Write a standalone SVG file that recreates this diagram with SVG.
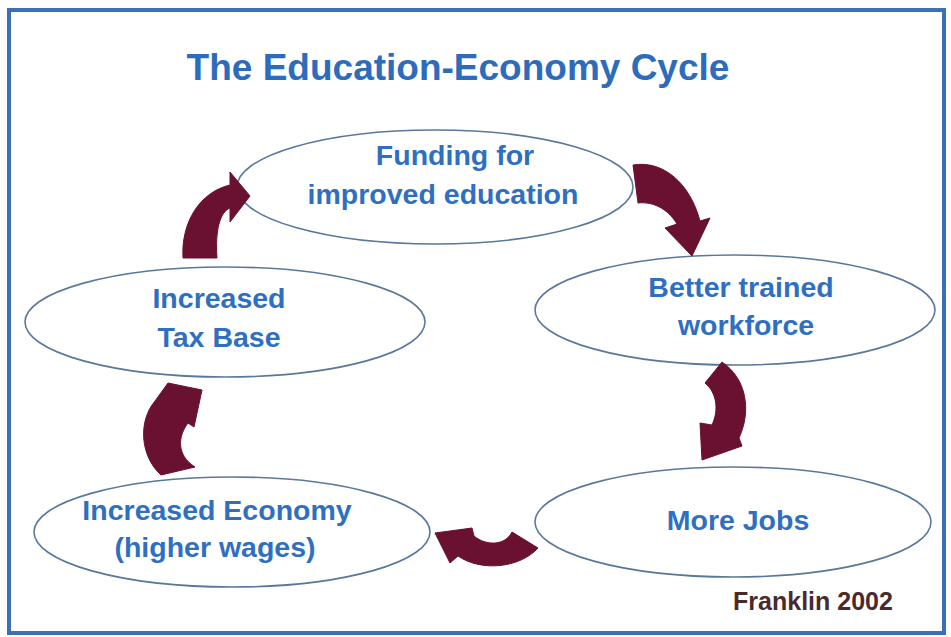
<svg xmlns="http://www.w3.org/2000/svg" width="951" height="637" viewBox="0 0 951 637">
  <style>
    .frame { fill: #ffffff; stroke: #3d6fb5; stroke-width: 4; }
    .title { font-family: "Liberation Sans", Arial, sans-serif; font-weight: bold; font-size: 37px; fill: #2d6cbd; text-anchor: middle; }
    .node ellipse { fill: #ffffff; stroke: #5a789c; stroke-width: 1.6; }
    .node text { font-family: "Liberation Sans", Arial, sans-serif; font-weight: bold; font-size: 28.5px; fill: #2f6fc2; text-anchor: middle; }
    .arrow { fill: #6a1030; stroke: #6a1030; stroke-width: 1; stroke-linejoin: round; }
    .credit { font-family: "Liberation Sans", Arial, sans-serif; font-weight: bold; font-size: 25px; fill: #4a2a2c; text-anchor: middle; }
  </style>

  <rect class="frame" x="9" y="10" width="935" height="623"/>

  <text class="title" x="458" y="80">The Education-Economy Cycle</text>

  <g id="funding" class="node">
    <ellipse cx="435" cy="187" rx="198" ry="57"/>
    <text x="455" y="165">Funding for</text>
    <text x="443" y="204">improved education</text>
  </g>

  <g id="workforce" class="node">
    <ellipse cx="735" cy="310" rx="200" ry="55"/>
    <text x="741" y="297">Better trained</text>
    <text x="746" y="335">workforce</text>
  </g>

  <g id="jobs" class="node">
    <ellipse cx="733" cy="522" rx="198" ry="55"/>
    <text x="738" y="530">More Jobs</text>
  </g>

  <g id="economy" class="node">
    <ellipse cx="232" cy="532" rx="198" ry="55"/>
    <text x="217" y="520">Increased Economy</text>
    <text x="215" y="557">(higher wages)</text>
  </g>

  <g id="taxbase" class="node">
    <ellipse cx="225" cy="322" rx="200" ry="55"/>
    <text x="219" y="308">Increased</text>
    <text x="219" y="347">Tax Base</text>
  </g>

  <g id="connectors">
    <!-- tax base -> funding -->
    <path class="arrow" d="M183,258 C181,222 200,192 230,185 L230,172 L250,196 L230,222 L230,208 C220,212 215,230 217,258 Z"/>
    <!-- funding -> workforce -->
    <path class="arrow" d="M633,165 C663,160 690,183 700,221 L710,218 L692,256 L665,228 L677,224 C670,212 656,201 638,203 Z"/>
    <!-- workforce -> jobs -->
    <path class="arrow" d="M705,383 L722,362 C746,378 752,410 739,438 L742,446 L702,460 L700,423 L712,425 C719,410 717,393 705,383 Z"/>
    <!-- jobs -> economy -->
    <path class="arrow" d="M538,548 L512,532 C505,546 486,546 474,536 L472,528 L435,533 L450,563 L458,556 C481,572 520,568 538,548 Z"/>
    <!-- economy -> tax base -->
    <path class="arrow" d="M161,475 C140,456 138,421 155,401 L168,383 L202,390 L194,427 L188,423 C178,436 176,455 195,467 Z"/>
  </g>

  <text class="credit" x="813" y="610">Franklin 2002</text>
</svg>
